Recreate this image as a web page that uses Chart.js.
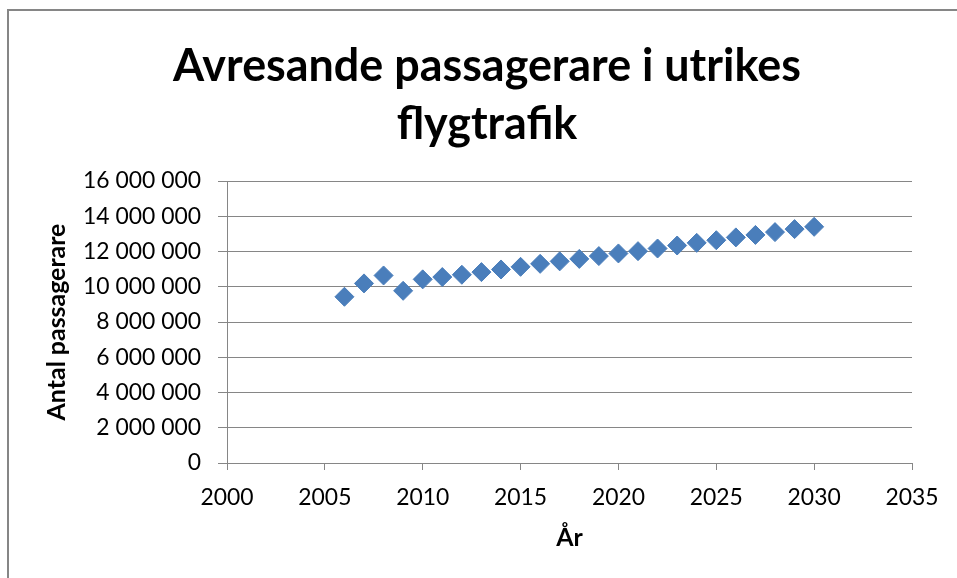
<!DOCTYPE html>
<html>
<head>
<meta charset="utf-8">
<script src="https://cdn.jsdelivr.net/npm/chart.js@4/dist/chart.umd.min.js"></script>
<style>
  html, body { margin: 0; padding: 0; background: #ffffff; }
  #wrap { width: 957px; height: 578px; }
</style>
</head>
<body>
<div id="wrap"><canvas id="c" width="957" height="578"></canvas></div>
<script>
// ---- Data ----
const titleLines = ['Avresande passagerare i utrikes', 'flygtrafik'];
const xAxisTitle = 'År';
const yAxisTitle = 'Antal passagerare';

const years = [2006, 2007, 2008, 2009, 2010, 2011, 2012, 2013, 2014, 2015,
               2016, 2017, 2018, 2019, 2020, 2021, 2022, 2023, 2024, 2025,
               2026, 2027, 2028, 2029, 2030];
const passengers = [9430000, 10190000, 10640000, 9770000, 10420000, 10550000, 10680000, 10830000, 10980000, 11130000,
                    11300000, 11440000, 11580000, 11740000, 11890000, 12020000, 12170000, 12340000, 12490000, 12640000,
                    12800000, 12940000, 13100000, 13270000, 13400000];

const xTickValues = [2000, 2005, 2010, 2015, 2020, 2025, 2030, 2035];
const yTickValues = [0, 2000000, 4000000, 6000000, 8000000, 10000000, 12000000, 14000000, 16000000];

// ---- Styling helpers ----
const FAMILY = 'Lato, "Open Sans", "DejaVu Sans", sans-serif';
function fmtSpaces(v) { return String(v).replace(/\B(?=(\d{3})+(?!\d))/g, ' '); }
function fitSize(text, weight, target) {
  const ctx = document.createElement('canvas').getContext('2d');
  ctx.font = weight + ' 100px ' + FAMILY;
  return 100 * target / ctx.measureText(text).width;
}
const titleSize = fitSize(titleLines[0], 'bold', 628);
const tickSize = fitSize(fmtSpaces(yTickValues[yTickValues.length - 1]), 'normal', 118);
const axisTitleSize = fitSize(yAxisTitle, 'bold', 197);

const GRID = '#868686';

const framePlugin = {
  id: 'frame',
  beforeDraw(chart) {
    const ctx = chart.ctx;
    ctx.save();
    ctx.fillStyle = '#ffffff';
    ctx.fillRect(0, 0, chart.width, chart.height);
    ctx.strokeStyle = GRID;
    ctx.lineWidth = 2;
    ctx.beginPath();
    ctx.moveTo(8, chart.height);
    ctx.lineTo(8, 10);
    ctx.lineTo(chart.width, 10);
    ctx.stroke();
    ctx.restore();
  }
};

new Chart(document.getElementById('c'), {
  type: 'scatter',
  data: {
    datasets: [{
      label: yAxisTitle,
      data: years.map((x, i) => ({ x: x, y: passengers[i] })),
      pointStyle: 'rectRot',
      pointRadius: 9.5,
      pointHoverRadius: 9.5,
      backgroundColor: '#4A7EBB',
      borderColor: '#4A7EBB',
      borderWidth: 1
    }]
  },
  options: {
    responsive: false,
    animation: false,
    events: [],
    layout: { padding: { left: 17, right: 0, top: 0, bottom: 0 } },
    plugins: {
      legend: { display: false },
      tooltip: { enabled: false },
      title: {
        display: true,
        text: titleLines,
        color: '#000000',
        font: { family: FAMILY, size: titleSize, weight: 'bold', lineHeight: 58 / titleSize },
        padding: { top: 38, bottom: 27 }
      }
    },
    scales: {
      x: {
        type: 'linear',
        position: 'bottom',
        min: 2000,
        max: 2035,
        afterBuildTicks(s) { s.ticks = xTickValues.map(v => ({ value: v })); },
        afterFit(s) { s.height = 115; },
        grid: { drawOnChartArea: false, drawTicks: true, tickLength: 7, color: GRID, lineWidth: 1 },
        border: { display: true, color: GRID, width: 1 },
        ticks: {
          color: '#000000',
          padding: 14,
          maxRotation: 0,
          autoSkip: false,
          font: { family: FAMILY, size: tickSize, lineHeight: 1.2 },
          callback: v => String(v)
        },
        title: {
          display: true,
          text: xAxisTitle,
          color: '#000000',
          font: { family: FAMILY, size: axisTitleSize, weight: 'bold', lineHeight: 1.2 },
          padding: { top: 0, bottom: 25 }
        }
      },
      y: {
        type: 'linear',
        position: 'left',
        min: 0,
        max: 16000000,
        afterBuildTicks(s) { s.ticks = yTickValues.map(v => ({ value: v })); },
        afterFit(s) { s.width = 210; },
        grid: { drawOnChartArea: true, drawTicks: true, tickLength: 9, color: GRID, lineWidth: 1 },
        border: { display: true, color: GRID, width: 1 },
        ticks: {
          color: '#000000',
          padding: 17,
          autoSkip: false,
          font: { family: FAMILY, size: tickSize, lineHeight: 1.2 },
          callback: v => fmtSpaces(v)
        },
        title: {
          display: true,
          text: yAxisTitle,
          color: '#000000',
          font: { family: FAMILY, size: axisTitleSize, weight: 'bold', lineHeight: 1.2 },
          padding: { top: 25, bottom: 0 }
        }
      },
      yRightSpace: {
        type: 'linear',
        position: 'right',
        display: true,
        afterFit(s) { s.width = 45; },
        grid: { display: false },
        border: { display: false },
        ticks: { display: false },
        title: { display: false }
      }
    }
  },
  plugins: [framePlugin]
});
</script>
</body>
</html>
